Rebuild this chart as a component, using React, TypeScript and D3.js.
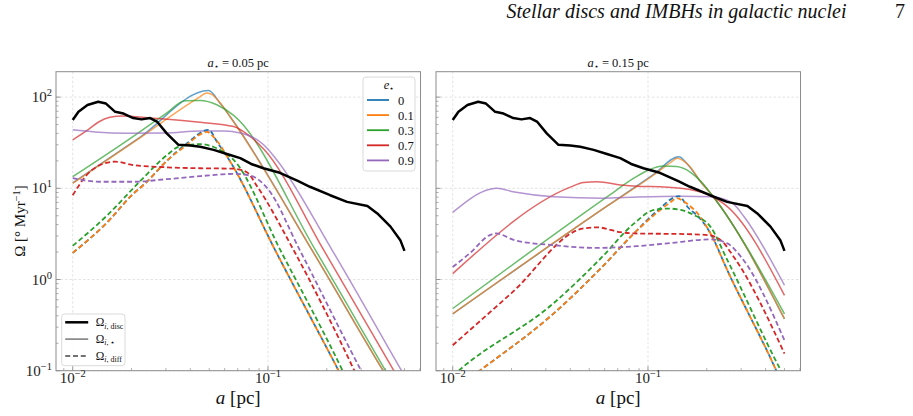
import React from "react";
import * as d3 from "d3";

type Pt = [number, number];

// e_star values and their colours (tab10)
const eccLabels = ["0", "0.1", "0.3", "0.7", "0.9"];
const eccColors = ["#1f77b4", "#ff7f0e", "#2ca02c", "#d62728", "#9467bd"];
const panelTitles = ["0.05", "0.15"];
const yTickExps = [-1, 0, 1, 2];
const xTickExps = [-2, -1];

// Omega_disc, same in both panels  [a (pc), Omega (deg/Myr)]
const omegaDisc: Pt[] = [
  [0.01, 56], [0.0107, 69], [0.0119, 82], [0.0135, 89], [0.0148, 85], [0.0165, 69],
  [0.0182, 66], [0.0204, 59], [0.0225, 57], [0.0249, 59], [0.027, 54], [0.0303, 40],
  [0.0348, 30], [0.04, 29.5], [0.045, 28.6], [0.0527, 26.4], [0.0616, 23.8], [0.0721, 21.4],
  [0.082, 18.5], [0.0948, 16.6], [0.115, 14.8], [0.143, 12], [0.164, 10.4], [0.208, 8.4],
  [0.254, 7.1], [0.323, 6.4], [0.363, 5.3], [0.424, 3.8], [0.476, 2.7], [0.5, 2.06],
];

// a_star = 0.05 pc, Omega_{i,star}
const leftStarE0: Pt[] = [[0.01, 11.5], [0.022, 36], [0.0496, 118], [0.057, 85], [0.064, 61], [0.168, 2.1], [0.389, 0.1], [0.45, 0.06]];
const leftStarE01: Pt[] = [[0.01, 11.3], [0.022, 35.5], [0.044, 98], [0.0486, 111], [0.052, 106], [0.057, 86], [0.064, 61], [0.168, 2.1], [0.389, 0.1], [0.45, 0.06]];
const leftStarE03: Pt[] = [[0.01, 13.4], [0.02, 36], [0.03, 66], [0.0377, 91], [0.045, 92], [0.055, 82], [0.0667, 63], [0.175, 2.1], [0.4, 0.1], [0.46, 0.06]];
const leftStarE07: Pt[] = [[0.01, 34], [0.012, 44], [0.0135, 53], [0.0155, 60], [0.018, 62], [0.025, 59], [0.045, 53], [0.0667, 47.6], [0.081, 37], [0.095, 27], [0.193, 2.1], [0.441, 0.1], [0.5, 0.063]];
const leftStarE09: Pt[] = [[0.01, 43.8], [0.013, 41.5], [0.019, 40.2], [0.03, 40.5], [0.045, 42.5], [0.06, 42.5], [0.072, 40.5], [0.082, 37], [0.095, 30], [0.11, 21], [0.213, 2.1], [0.483, 0.1], [0.5, 0.088]];

// a_star = 0.05 pc, Omega_{i,diff}
const leftDiffE0: Pt[] = [[0.01, 1.96], [0.0148, 4.1], [0.0204, 8.7], [0.0237, 11.5], [0.0303, 20], [0.0384, 31], [0.0496, 43.8], [0.055, 32], [0.0641, 19.6], [0.1088, 2.1], [0.23, 0.1], [0.26, 0.06]];
const leftDiffE01: Pt[] = [[0.01, 1.96], [0.0148, 4.1], [0.0204, 8.7], [0.0237, 11.5], [0.0303, 20], [0.0384, 30], [0.045, 39], [0.0486, 41.5], [0.053, 36], [0.0641, 19.6], [0.1088, 2.1], [0.23, 0.1], [0.26, 0.06]];
const leftDiffE03: Pt[] = [[0.01, 2.34], [0.0148, 4.9], [0.0224, 12.3], [0.0303, 23], [0.0355, 29], [0.045, 30.5], [0.0546, 27.5], [0.0667, 20.5], [0.1157, 2.1], [0.241, 0.1], [0.27, 0.06]];
const leftDiffE07: Pt[] = [[0.01, 8.4], [0.0118, 14], [0.0138, 18], [0.0165, 19.6], [0.0204, 18], [0.0303, 17], [0.045, 16.6], [0.0667, 16.4], [0.078, 15], [0.088, 10.5], [0.1353, 2.1], [0.277, 0.1], [0.31, 0.06]];
const leftDiffE09: Pt[] = [[0.01, 12.9], [0.0138, 11.8], [0.0204, 11.8], [0.0303, 12.6], [0.045, 13.6], [0.0667, 14.4], [0.081, 13.8], [0.09, 12.3], [0.1, 9.8], [0.1455, 2.1], [0.3, 0.1], [0.33, 0.068]];

// a_star = 0.15 pc, Omega_{i,star}
const rightStarE0: Pt[] = [[0.01, 0.42], [0.0619, 6.4], [0.107, 14.2], [0.144, 22.2], [0.159, 18.5], [0.186, 11.8], [0.213, 8.4], [0.5, 0.37]];
const rightStarE01: Pt[] = [[0.01, 0.42], [0.0619, 6.4], [0.107, 14], [0.132, 19.5], [0.141, 21.3], [0.152, 20], [0.165, 17], [0.186, 11.8], [0.213, 8.4], [0.5, 0.37]];
const rightStarE03: Pt[] = [[0.01, 0.48], [0.0619, 8.1], [0.085, 13], [0.1, 15.8], [0.12, 17.6], [0.14, 17.3], [0.165, 15], [0.186, 12], [0.213, 8.4], [0.5, 0.42]];
const rightStarE07: Pt[] = [[0.01, 1.16], [0.04, 10.3], [0.0467, 11.6], [0.055, 11.8], [0.0724, 10.9], [0.147, 10], [0.2, 8.6], [0.255, 6.3], [0.5, 0.67]];
const rightStarE09: Pt[] = [[0.01, 5.45], [0.0155, 9.75], [0.0168, 10], [0.0207, 9.1], [0.0327, 8.1], [0.059, 7.8], [0.0724, 7.9], [0.147, 8.2], [0.213, 8.1], [0.25, 7.5], [0.275, 6.7], [0.31, 4.9], [0.5, 0.865]];

// a_star = 0.15 pc, Omega_{i,diff}
const rightDiffE0: Pt[] = [[0.01, 0.06], [0.01375, 0.1], [0.0327, 0.42], [0.0572, 1.32], [0.0847, 3.2], [0.11, 5.5], [0.144, 8.2], [0.16, 6.2], [0.186, 4.6], [0.209, 3.2], [0.255, 1.26], [0.445, 0.11], [0.47, 0.085]];
const rightDiffE01: Pt[] = [[0.01, 0.06], [0.01375, 0.1], [0.0327, 0.42], [0.0572, 1.32], [0.0847, 3.2], [0.11, 5.3], [0.13, 7.0], [0.141, 7.8], [0.152, 7.2], [0.186, 4.8], [0.209, 3.2], [0.255, 1.26], [0.445, 0.11], [0.47, 0.085]];
const rightDiffE03: Pt[] = [[0.01, 0.088], [0.0113, 0.11], [0.0327, 0.545], [0.0572, 1.7], [0.0847, 4.1], [0.1073, 5.8], [0.1257, 6.0], [0.147, 5.8], [0.172, 5.1], [0.209, 3.78], [0.255, 1.63], [0.48, 0.1], [0.5, 0.085]];
const rightDiffE07: Pt[] = [[0.01, 0.19], [0.02, 0.71], [0.0467, 3.63], [0.055, 3.73], [0.0724, 3.3], [0.0847, 3.2], [0.153, 3.15], [0.2015, 3.07], [0.236, 2.7], [0.275, 1.77], [0.5, 0.154]];
const rightDiffE09: Pt[] = [[0.01, 1.37], [0.0122, 1.93], [0.0155, 3.07], [0.0167, 3.2], [0.0207, 2.7], [0.0327, 2.38], [0.0545, 2.22], [0.0875, 2.32], [0.1257, 2.49], [0.209, 2.75], [0.255, 2.49], [0.2995, 1.77], [0.5, 0.215]];

const leftStar = [leftStarE0, leftStarE01, leftStarE03, leftStarE07, leftStarE09];
const leftDiff = [leftDiffE0, leftDiffE01, leftDiffE03, leftDiffE07, leftDiffE09];
const rightStar = [rightStarE0, rightStarE01, rightStarE03, rightStarE07, rightStarE09];
const rightDiff = [rightDiffE0, rightDiffE01, rightDiffE03, rightDiffE07, rightDiffE09];

const FONT = "'Liberation Serif', 'DejaVu Serif', serif";
const Y0 = 71.7;
const H = 299;
const W = 364.5;
const xDomain = [Math.pow(10, -2.0856), Math.pow(10, -0.219)];
const yDomain = [0.1, 190];
const SPINE = "#8c8c8c";
const GRID = "#dcdcdc";

function Panel(props: { id: string; x0: number; title: string; star: Pt[][]; diff: Pt[][]; first: boolean }) {
  const { id, x0, title, star, diff, first } = props;
  const x = d3.scaleLog().domain(xDomain).range([x0, x0 + W]);
  const y = d3.scaleLog().domain(yDomain).range([Y0 + H, Y0]);
  const line = d3
    .line<Pt>()
    .x(d => x(d[0]))
    .y(d => y(d[1]))
    .curve(d3.curveMonotoneX);
  const discLine = d3
    .line<Pt>()
    .x(d => x(d[0]))
    .y(d => y(d[1]));

  var xMinor: number[] = [];
  for (var k = -3; k <= -1; k++) {
    for (var m = 2; m <= 9; m++) {
      var v = m * Math.pow(10, k);
      if (v >= xDomain[0] && v <= xDomain[1]) xMinor.push(v);
    }
  }
  var yMinor: number[] = [];
  for (var k2 = -1; k2 <= 1; k2++) {
    for (var m2 = 2; m2 <= 9; m2++) yMinor.push(m2 * Math.pow(10, k2));
  }

  const cx = x0 + W / 2;

  return (
    <g>
      <defs>
        <clipPath id={id}>
          <rect x={x0} y={Y0} width={W} height={H} />
        </clipPath>
      </defs>
      {/* grid */}
      {xTickExps.map(e => (
        <line key={"gx" + e} x1={x(Math.pow(10, e))} x2={x(Math.pow(10, e))} y1={Y0} y2={Y0 + H}
          stroke={GRID} strokeWidth={0.8} strokeDasharray="2.5,2" />
      ))}
      {yTickExps.map(e => (
        <line key={"gy" + e} x1={x0} x2={x0 + W} y1={y(Math.pow(10, e))} y2={y(Math.pow(10, e))}
          stroke={GRID} strokeWidth={0.8} strokeDasharray="2.5,2" />
      ))}
      <g clipPath={`url(#${id})`}>
        {star.map((s, i) => (
          <path key={"s" + i} d={line(s) || ""} fill="none" stroke={eccColors[i]} strokeOpacity={0.7} strokeWidth={1.5} />
        ))}
        {diff.map((s, i) => (
          <path key={"d" + i} d={line(s) || ""} fill="none" stroke={eccColors[i]} strokeWidth={1.8} strokeDasharray="5,2.8" />
        ))}
        <path d={discLine(omegaDisc) || ""} fill="none" stroke="#000" strokeWidth={2.5} strokeLinejoin="round" />
      </g>
      {/* ticks */}
      {xTickExps.map(e => (
        <line key={"tx" + e} x1={x(Math.pow(10, e))} x2={x(Math.pow(10, e))} y1={Y0 + H} y2={Y0 + H - 4.5} stroke={SPINE} strokeWidth={0.9} />
      ))}
      {xMinor.map(v => (
        <line key={"mx" + v} x1={x(v)} x2={x(v)} y1={Y0 + H} y2={Y0 + H - 2.6} stroke={SPINE} strokeWidth={0.7} />
      ))}
      {yTickExps.map(e => (
        <line key={"ty" + e} x1={x0} x2={x0 + 4.5} y1={y(Math.pow(10, e))} y2={y(Math.pow(10, e))} stroke={SPINE} strokeWidth={0.9} />
      ))}
      {yMinor.map(v => (
        <line key={"my" + v} x1={x0} x2={x0 + 2.6} y1={y(v)} y2={y(v)} stroke={SPINE} strokeWidth={0.7} />
      ))}
      <rect x={x0} y={Y0} width={W} height={H} fill="none" stroke={SPINE} strokeWidth={1} />
      {/* tick labels */}
      {xTickExps.map(e => (
        <text key={"lx" + e} x={x(Math.pow(10, e))} y={Y0 + H + 12.5} textAnchor="middle" fontSize={15} fontFamily={FONT} fill="#222">
          10<tspan dy={-6} fontSize={10.5}>{"\u2212" + Math.abs(e)}</tspan>
        </text>
      ))}
      {first &&
        yTickExps.map(e => (
          <text key={"ly" + e} x={x0 - 4} y={y(Math.pow(10, e)) + 5} textAnchor="end" fontSize={15} fontFamily={FONT} fill="#222">
            10<tspan dy={-6} fontSize={10.5}>{e < 0 ? "\u2212" + Math.abs(e) : String(e)}</tspan>
          </text>
        ))}
      {/* title */}
      <text x={cx} y={Y0 - 5} textAnchor="middle" fontSize={12.5} fontFamily={FONT} fill="#111">
        <tspan fontStyle="italic">a</tspan>
        <tspan fontSize={8} dy={2}>{"\u22c6"}</tspan>
        <tspan dy={-2}>{" = " + title + " pc"}</tspan>
      </text>
      {/* x label */}
      <text x={cx} y={404} textAnchor="middle" fontSize={19} fontFamily={FONT} fill="#111">
        <tspan fontStyle="italic">a</tspan> [pc]
      </text>
    </g>
  );
}

function EccLegend() {
  const lx = 363;
  const ly = 77;
  return (
    <g fontFamily={FONT}>
      <rect x={lx} y={ly} width={52} height={94} rx={3} fill="#fff" fillOpacity={0.85} stroke="#d0d0d0" strokeWidth={0.8} />
      <text x={lx + 26} y={ly + 12} textAnchor="middle" fontSize={12.5} fill="#111">
        <tspan fontStyle="italic">e</tspan>
        <tspan fontSize={8} dy={2}>{"\u22c6"}</tspan>
      </text>
      {eccLabels.map((l, i) => (
        <g key={l}>
          <line x1={lx + 4} x2={lx + 26} y1={ly + 23 + i * 15.1} y2={ly + 23 + i * 15.1} stroke={eccColors[i]} strokeWidth={1.8} />
          <text x={lx + 35} y={ly + 27.5 + i * 15.1} fontSize={12.5} fill="#111">{l}</text>
        </g>
      ))}
    </g>
  );
}

const styleLabels = [
  { sub: "disc", width: 2.5, color: "#000", dash: "" },
  { sub: "\u22c6", width: 1.5, color: "#777", dash: "" },
  { sub: "diff", width: 1.5, color: "#444", dash: "5,2.8" },
];

function StyleLegend() {
  const lx = 61.7;
  const ly = 314;
  return (
    <g fontFamily={FONT}>
      <rect x={lx} y={ly} width={63.3} height={51.7} rx={3} fill="#fff" fillOpacity={0.85} stroke="#d0d0d0" strokeWidth={0.8} />
      {styleLabels.map((s, i) => (
        <g key={s.sub}>
          <line x1={lx + 3.5} x2={lx + 26.5} y1={ly + 8.3 + i * 16.8} y2={ly + 8.3 + i * 16.8}
            stroke={s.color} strokeWidth={s.width} strokeDasharray={s.dash || undefined} />
          <text x={lx + 34} y={ly + 12 + i * 16.8} fontSize={11.5} fill="#111">
            {"\u03a9"}
            <tspan fontSize={8} dy={2.5} fontStyle="italic">i</tspan>
            <tspan fontSize={8}>{", " + s.sub}</tspan>
          </text>
        </g>
      ))}
    </g>
  );
}

export default function App() {
  return (
    <svg width={913} height={416} style={{ position: "absolute", left: 0, top: 0, background: "#fff" }}>
      <rect width={913} height={416} fill="#fff" />
      <text x={846.5} y={18} textAnchor="end" fontSize={20} fontStyle="italic" fontFamily={FONT} fill="#111">
        Stellar discs and IMBHs in galactic nuclei
      </text>
      <text x={905} y={18} textAnchor="end" fontSize={20} fontFamily={FONT} fill="#111">7</text>
      <Panel id="clipL" x0={56} title={panelTitles[0]} star={leftStar} diff={leftDiff} first={true} />
      <Panel id="clipR" x0={436} title={panelTitles[1]} star={rightStar} diff={rightDiff} first={false} />
      <text transform="translate(25,221) rotate(-90)" textAnchor="middle" fontSize={15} fontFamily={FONT} fill="#111">
        {"\u03a9 [\u00b0 Myr"}
        <tspan dy={-5} fontSize={10.5}>{"\u22121"}</tspan>
        <tspan dy={5}>]</tspan>
      </text>
      <EccLegend />
      <StyleLegend />
    </svg>
  );
}
